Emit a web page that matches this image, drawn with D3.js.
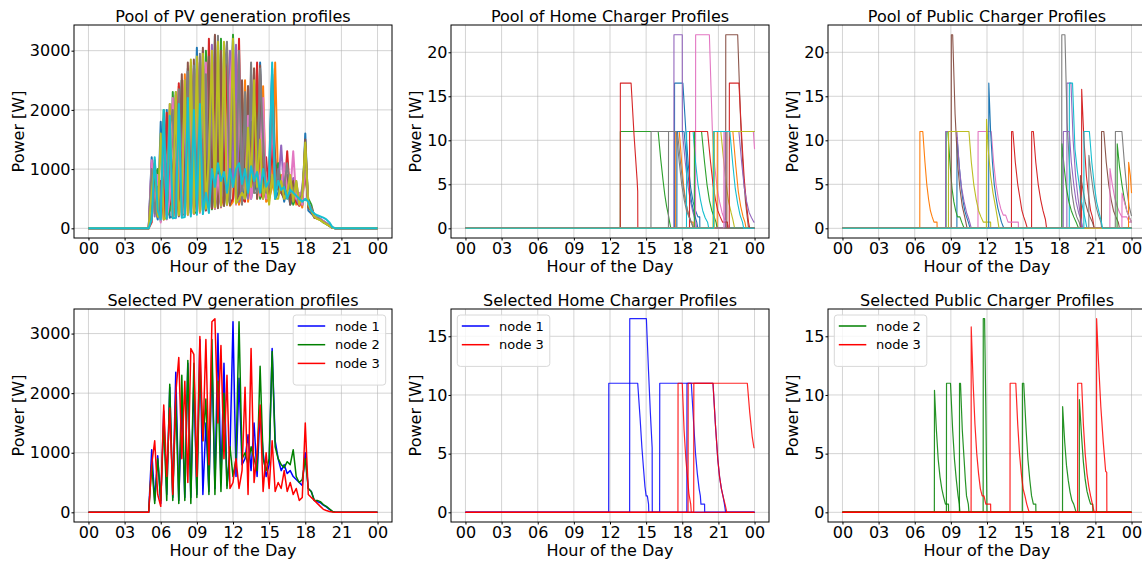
<!DOCTYPE html>
<html><head><meta charset="utf-8">
<script src="https://cdn.jsdelivr.net/npm/d3@7"></script>
<style>body{margin:0;background:#fff}svg{display:block;font-family:"DejaVu Sans",sans-serif}</style>
</head><body>
<svg id="c" width="1142" height="562"></svg>
<script>
// ---------- tick values / labels ----------
const hourTicks = [0,3,6,9,12,15,18,21,24];
const hourLabels = ["00","03","06","09","12","15","18","21","00"];
const pvTicks = [0,1000,2000,3000];
const poolChargerTicks = [0,5,10,15,20];
const selChargerTicks = [0,5,10,15];
const titles = ["Pool of PV generation profiles","Pool of Home Charger Profiles","Pool of Public Charger Profiles",
  "Selected PV generation profiles","Selected Home Charger Profiles","Selected Public Charger Profiles"];

// ---------- PV sample hours ----------
const pvHours = [0, 5,5.25,5.5,5.75, 6,6.25,6.5,6.75, 7,7.25,7.5,7.75, 8,8.25,8.5,8.75, 9,9.25,9.5,9.75,
  10,10.25,10.5,10.75, 11,11.25,11.5,11.75, 12,12.25,12.5,12.75, 13,13.25,13.5,13.75, 14,14.25,14.5,14.75,
  15,15.25,15.5,15.75, 16,16.25,16.5,16.75, 17,17.25,17.5,17.75, 18,18.25,18.5,18.75, 19,19.25,19.5,19.75, 20,20.25,20.5, 24];

// ---------- PV pool profiles (W) ----------
const pvPool01 = [0, 0,1200,400,150, 1800,300,2000,180, 200,2300,400,2500, 260,2700,300,800, 3050,300,1500,310, 2900,350,3250,600, 400,2100,420,800, 3250,500,900,450, 700,2400,500,800, 600,2800,700,500, 1000,2700,500,600, 800,450,700,400, 500,600,450,380, 1600,300,250,200, 180,150,120,90, 50,15,0, 0];
const pvPool02 = [0, 0,800,1100,200, 200,1500,250,1900, 170,400,2400,220, 2600,240,2800,250, 600,2900,290,2000, 320,1200,330,3100, 350,600,3000,380, 450,2900,400,600, 2500,450,800,2700, 500,900,2400,450, 500,700,2800,700, 900,650,500,800, 700,400,500,350, 1400,350,300,180, 160,140,110,80, 40,10,0, 0];
const pvPool03 = [0, 0,300,900,1000, 120,2000,200,300, 2300,190,600,2500, 230,1000,2750,250, 280,2500,300,3000, 1800,320,700,350, 3200,380,900,400, 3270,420,700,2200, 500,700,1800,600, 2300,500,800,600, 600,2200,800,1100, 700,800,600,750, 400,550,400,650, 900,500,400,200, 170,140,100,70, 40,10,0, 0];
const pvPool04 = [0, 0,100,1150,300, 800,150,1950,400, 2100,200,2450,600, 2500,1000,260,2700, 270,2800,700,300, 3200,340,2800,360, 2700,400,3100,420, 500,1000,3200,500, 450,2000,600,900, 2800,600,500,1200, 550,1400,600,700, 600,550,1300,500, 600,450,380,500, 1000,400,350,210, 170,150,120,80, 45,12,0, 0];
const pvPool05 = [0, 0,1100,200,800, 150,1700,700,2100, 180,2200,200,2400, 800,2650,240,2200, 2700,290,3000,320, 600,3100,330,2500, 360,2800,400,3000, 700,3100,450,1200, 2000,500,2600,700, 900,2600,600,700, 800,2000,900,700, 1400,600,800,700, 850,500,400,700, 1200,400,300,200, 180,160,120,90, 50,15,0, 0];
const pvPool06 = [0, 0,900,1000,500, 200,1800,160,2000, 500,2250,210,2600, 230,2800,400,2850, 280,900,3050,310, 2900,350,3270,340, 3000,380,900,400, 3000,420,600,2500, 500,2400,600,2700, 500,2750,800,500, 700,2600,1200,700, 600,500,900,400, 800,600,500,400, 1500,350,300,180, 170,150,110,80, 40,12,0, 0];
const pvPool07 = [0, 0,1150,300,900, 100,1600,150,500, 2200,170,1500,200, 2500,220,2600,240, 2400,260,800,2800, 300,3000,340,900, 380,2900,390,2400, 3100,400,2800,480, 600,1900,500,800, 1300,550,2200,500, 900,1800,700,800, 700,1100,650,600, 1300,500,600,400, 1100,450,320,220, 190,160,120,90, 50,15,0, 0];
const pvPool08 = [0, 0,1000,250,700, 180,1850,230,1700, 2000,190,2350,220, 240,2650,260,2750, 300,2950,310,2600, 350,2700,360,3250, 400,2500,3150,450, 2900,480,3000,400, 2300,600,2800,600, 600,2700,1500,600, 700,2300,600,1000, 650,700,1100,600, 600,800,450,600, 1300,400,350,190, 180,150,110,80, 45,12,0, 0];
const pvPool09 = [0, 0,600,1100,200, 1600,150,180,2100, 200,2300,220,600, 2500,230,2850,250, 2900,280,2950,330, 1200,3000,350,3150, 380,3150,400,1000, 3200,420,500,600, 500,1700,700,2500, 700,1500,500,800, 400,900,500,500, 800,500,600,900, 450,800,400,550, 1450,400,300,200, 160,140,100,70, 40,10,0, 0];
const pvPool10 = [0, 0,150,1200,300, 150,2000,160,1900, 170,180,2100,180, 190,2200,200,2000, 230,2100,240,600, 260,1000,700,1100, 800,950,600,1000, 700,1000,1100,750, 1000,600,1050,800, 950,600,1000,700, 800,2800,500,800, 650,700,500,650, 600,550,500,450, 500,450,300,250, 220,200,180,150, 100,20,0, 0];
const pvPool = [pvPool01,pvPool02,pvPool03,pvPool04,pvPool05,pvPool06,pvPool07,pvPool08,pvPool09,pvPool10];

// ---------- Selected PV profiles (W) ----------
const pvNode1 = [0, 0,1050,200,950, 150,1700,300,2100, 250,2350,200,1800, 250,2500,250,2200, 300,2900,300,1500, 350,2600,400,3000, 500,2500,450,1000, 3200,600,2250,800, 900,1300,700,1500, 600,1700,1000,600, 800,2750,1200,900, 700,800,650,700, 600,550,500,450, 1000,400,350,200, 180,160,120,90, 50,15,0, 0];
const pvNode2 = [0, 0,800,150,900, 200,1500,200,2150, 200,1900,150,2300, 200,2550,150,2500, 250,2500,1200,1900, 300,2900,300,2200, 350,2000,400,1100, 600,900,3200,900, 1000,800,1100,900, 700,2450,900,700, 900,2700,1100,900, 800,750,850,800, 1050,600,500,550, 900,400,350,200, 200,180,130,100, 60,15,0, 0];
const pvNode3 = [0, 0,800,1200,300, 100,1800,600,1750, 300,2000,2600,900, 2200,500,2750,2650, 600,2950,1200,2900, 800,3200,3250,1500, 2800,900,2300,400, 500,900,400,700, 2100,300,2750,500, 1000,1800,350,1000, 400,1200,350,500, 400,700,350,500, 300,400,200,250, 1500,300,250,200, 150,100,50,30, 15,5,0, 0];

// ---------- Home charger pool: [hour, kW] breakpoints ----------
const homePool = [
 [[0,0],[17.35,0],[17.36,16.5],[18.05,16.5],[18.3,11],[18.5,7.2],[18.7,4.6],[18.9,3],[19.1,2],[19.3,1.3],[19.45,1.3],[19.46,0],[24,0]],
 [[0,0],[17.45,0],[17.46,11],[17.75,11],[17.95,7.5],[18.1,5],[18.25,3.4],[18.4,2.2],[18.55,1.4],[18.7,0.7],[18.9,0.7],[18.91,0],[24,0]],
 [[0,0],[12.85,0],[12.86,11],[16.0,11],[16.2,8],[16.4,5.5],[16.55,3.8],[16.7,2.5],[16.85,1.5],[16.95,0.7],[17.05,0],[24,0]],
 [[0,0],[12.85,0],[12.86,16.5],[13.75,16.5],[14.0,10.5],[14.25,5.5],[14.3,4.2],[14.31,0],[24,0]],
 [[0,0],[17.3,0],[17.31,22],[18.0,22],[18.01,11],[18.25,7.5],[18.45,5],[18.65,3.3],[18.85,2],[19.05,1],[19.2,0],[24,0]],
 [[0,0],[21.6,0],[21.61,22],[22.6,22],[22.85,12],[23.05,6.5],[23.25,3],[23.4,1.2],[23.5,0],[24,0]],
 [[0,0],[19.1,0],[19.11,22],[20.25,22],[20.5,11],[20.7,7],[20.9,4.5],[21.1,3],[21.3,1.8],[21.5,1],[21.7,0.7],[21.9,0],[24,0]],
 [[0,0],[15.4,0],[15.41,11],[17.6,11],[17.85,7.5],[18.05,5],[18.25,3.2],[18.45,2],[18.6,1.3],[18.75,0.7],[18.9,0],[24,0]],
 [[0,0],[20.55,0],[20.56,11],[21.2,11],[21.45,7.5],[21.65,5],[21.85,3],[22.05,1.8],[22.2,1],[22.35,0],[24,0]],
 [[0,0],[18.35,0],[18.36,11],[18.9,11],[19.1,7.5],[19.3,5],[19.5,3.3],[19.7,2],[19.9,1.2],[20.1,0.7],[20.2,0],[24,0]],
 [[0,0],[17.55,0],[17.56,11],[18.15,11],[18.4,7.2],[18.6,4.5],[18.8,2.8],[19.0,1.6],[19.2,0.7],[19.3,0],[24,0]],
 [[0,0],[20.9,0],[20.91,11],[22.2,11],[22.45,7],[22.65,4.2],[22.85,2.5],[23.05,1.3],[23.2,0.7],[23.3,0],[24,0]],
 [[0,0],[19.0,0],[19.01,11],[19.6,11],[19.85,7.5],[20.05,5],[20.25,3.2],[20.45,2],[20.65,1.3],[20.8,0.7],[20.9,0],[24,0]],
 [[0,0],[18.6,0],[18.61,11],[20.1,11],[20.35,7.5],[20.55,5],[20.75,3.3],[20.95,2],[21.15,1.3],[21.35,0.7],[21.75,0.7],[21.76,0],[21.9,0],[21.91,16.5],[22.7,16.5],[22.95,10],[23.15,5.5],[23.35,2.5],[23.5,0.7],[23.6,0],[24,0]],
 [[0,0],[21.55,0],[21.56,11],[22.7,11],[22.95,7.2],[23.15,4.6],[23.35,3],[23.55,1.8],[23.75,1.2],[23.95,0.7],[24,0.7]],
 [[0,0],[21.7,0],[21.71,11],[24,11]],
 [[0,0],[21.45,0],[21.46,11],[23.9,11],[24,9]],
 [[0,0],[16.85,0],[16.86,11],[17.5,11],[17.75,7.5],[17.95,5],[18.15,3.3],[18.35,2],[18.55,1.3],[18.75,0.7],[18.95,0],[24,0]],
 [[0,0],[20.65,0],[20.66,11],[24,11]],
 [[0,0],[20.6,0],[20.61,11],[21.95,11],[22.2,7.2],[22.4,4.5],[22.6,2.8],[22.8,1.5],[23.0,0.7],[23.1,0],[24,0]]
];

// ---------- Public charger pool ----------
const publicPool = [
 [[0,0],[9.5,0],[9.51,10.3],[9.7,7],[9.85,4.8],[10.0,3.2],[10.15,2],[10.3,1.3],[10.45,0.7],[10.6,0],[24,0]],
 [[0,0],[6.42,0],[6.43,11],[6.67,11],[6.85,7.5],[7.0,5],[7.15,3.3],[7.3,2],[7.45,1.3],[7.6,0.7],[7.85,0.7],[7.86,0],[24,0]],
 [[0,0],[8.6,0],[8.61,11],[8.75,11],[8.95,7],[9.1,4.5],[9.25,3],[9.4,2],[9.55,1.3],[9.75,1.3],[9.9,0.7],[10.1,0],[24,0]],
 [[0,0],[14.03,0],[14.04,11],[14.15,11],[14.35,7.5],[14.55,5],[14.75,3.3],[14.9,2],[15.05,1.3],[15.2,0.7],[15.35,0],[19.85,0],[19.86,15.8],[20.05,10],[20.25,6],[20.45,3.5],[20.6,2],[20.75,1.3],[20.9,0],[24,0]],
 [[0,0],[8.56,0],[8.57,11],[9.5,11],[9.7,7],[9.9,4.5],[10.1,3],[10.3,1.8],[10.5,1],[10.7,0],[18.63,0],[18.64,16.5],[18.97,16.5],[19.15,10],[19.35,6],[19.55,3.5],[19.75,1.5],[19.9,0],[24,0]],
 [[0,0],[9.03,0],[9.04,22],[9.15,22],[9.35,13],[9.55,7.5],[9.75,4.5],[9.95,2.5],[10.15,1.3],[10.35,0],[21.5,0],[21.51,11],[21.7,11],[21.9,7.5],[22.1,5],[22.3,3.3],[22.5,2],[22.7,1.3],[22.9,0.7],[23.0,0],[24,0]],
 [[0,0],[11.25,0],[11.26,11],[12.35,11],[12.55,7.5],[12.75,5],[12.95,3.3],[13.15,2.2],[13.35,1.5],[13.55,1.5],[13.75,0.7],[14.6,0.7],[14.61,0],[22.2,0],[22.21,6.8],[22.4,5],[22.6,3.5],[22.8,2.5],[23.0,1.8],[23.2,1.3],[23.6,1.3],[23.8,0.7],[24,0.7]],
 [[0,0],[18.2,0],[18.21,22],[18.47,22],[18.65,12],[18.85,7],[19.05,4],[19.25,2.3],[19.45,1.3],[19.65,0.7],[19.8,0],[22.65,0],[22.66,11],[23.2,11],[23.4,7.5],[23.6,4.5],[23.8,2.5],[24,1.4]],
 [[0,0],[8.8,0],[8.81,11],[10.5,11],[10.7,7.5],[10.9,5],[11.1,3.3],[11.3,2],[11.5,1.3],[11.7,0.7],[12.3,0.7],[12.31,0],[24,0]],
 [[0,0],[18.83,0],[18.84,16.5],[19.1,16.5],[19.3,9],[19.5,6.5],[19.7,4.5],[19.85,3],[20.0,2],[20.2,0.7],[20.3,0],[24,0]],
 [[0,0],[12.14,0],[12.15,16.5],[12.3,11],[12.45,7.5],[12.6,5],[12.75,3.5],[12.9,2.3],[13.05,1.5],[13.2,0.7],[13.4,0],[24,0]],
 [[0,0],[23.75,0],[23.76,7.5],[23.9,6],[24,4]],
 [[0,0],[18.22,0],[18.23,9.6],[18.4,7],[18.6,4.5],[18.8,3],[19.0,2],[19.2,1.3],[19.4,0.7],[19.6,0],[22.8,0],[22.81,9.6],[23.0,7],[23.2,5],[23.4,3.3],[23.6,2],[23.8,1.3],[24,0.7]],
 [[0,0],[15.7,0],[15.71,11],[15.85,11],[16.05,7.5],[16.25,5],[16.45,3.3],[16.65,2],[16.85,1],[16.95,0],[24,0]],
 [[0,0],[18.33,0],[18.34,11],[18.83,11],[19.0,7.5],[19.2,5],[19.4,3],[19.6,1.8],[19.8,1],[19.95,0],[24,0]],
 [[0,0],[19.75,0],[19.76,6],[19.95,4.5],[20.15,3],[20.35,2],[20.55,1.3],[20.75,0.7],[20.9,0],[24,0]],
 [[0,0],[23.2,0],[23.21,4],[23.4,3],[23.6,2],[23.8,1.3],[24,0.7]],
 [[0,0],[20.45,0],[20.46,8.3],[20.65,6],[20.85,4],[21.05,2.5],[21.25,1.5],[21.45,0.7],[21.55,0],[24,0]],
 [[0,0],[11.95,0],[11.96,12.4],[12.1,9],[12.3,6],[12.5,4],[12.7,2.5],[12.85,1.3],[13.0,0],[24,0]],
 [[0,0],[20.04,0],[20.05,11],[20.5,11],[20.7,7.5],[20.9,5],[21.1,3],[21.3,1.8],[21.5,0.7],[21.6,0],[24,0]]
];

// ---------- Selected home charger profiles ----------
const homeNode1 = [
 [[0,0],[11.89,0],[11.9,11],[14.3,11],[14.5,8],[14.65,5.5],[14.8,3.5],[14.9,2.2],[15.0,1.4],[15.1,1.4],[15.2,0.7],[15.22,0],[24,0]],
 [[0,0],[13.63,0],[13.64,16.5],[15.02,16.5],[15.2,12],[15.35,8.5],[15.5,5.5],[15.51,0],[24,0]],
 [[0,0],[16.12,0],[16.13,11],[18.75,11],[18.95,7.5],[19.1,5],[19.25,3.3],[19.4,2],[19.5,1.4],[19.55,0.7],[19.85,0.7],[19.86,0],[24,0]],
 [[0,0],[18.38,0],[18.39,11],[20.55,11],[20.75,7.5],[20.95,4.5],[21.1,3],[21.25,2],[21.4,1.3],[21.5,0.7],[21.6,0],[24,0]]
];
const homeNode3 = [
 [[0,0],[17.64,0],[17.65,11],[18.0,11],[18.15,7],[18.3,4.5],[18.45,2.8],[18.55,1.6],[18.7,0.7],[18.75,0],[24,0]],
 [[0,0],[18.48,0],[18.49,11],[20.55,11],[20.75,7.5],[20.95,4.5],[21.1,3],[21.25,2],[21.4,1.3],[21.55,0.7],[21.7,0],[24,0]],
 [[0,0],[18.95,0],[18.96,11],[23.4,11],[23.6,8.5],[23.8,6.5],[23.95,5.5],[24,5.5]]
];

// ---------- Selected public charger profiles ----------
const publicNode2 = [
 [[0,0],[7.63,0],[7.64,10.4],[7.8,7],[7.95,4.5],[8.1,3],[8.25,2],[8.4,1.3],[8.55,0.7],[8.8,0.7],[8.81,0],[24,0]],
 [[0,0],[8.63,0],[8.64,11],[8.97,11],[9.15,7],[9.3,4.5],[9.45,2.8],[9.6,1.4],[9.7,0.7],[9.75,0],[24,0]],
 [[0,0],[9.71,0],[9.72,11],[9.8,11],[9.95,7],[10.1,4.5],[10.2,2.8],[10.3,1.4],[10.45,0.7],[10.5,0],[24,0]],
 [[0,0],[11.68,0],[11.69,16.5],[11.8,16.5],[11.9,9],[12.0,0],[24,0]],
 [[0,0],[14.93,0],[14.94,11],[15.05,11],[15.25,7],[15.4,4.5],[15.55,2.8],[15.7,1.4],[15.85,0.7],[16.05,0.7],[16.06,0],[24,0]],
 [[0,0],[18.27,0],[18.28,9],[18.45,6],[18.6,4],[18.75,2.7],[18.9,1.7],[19.05,1],[19.2,0.7],[19.4,0],[24,0]],
 [[0,0],[19.66,0],[19.67,9.6],[19.85,6.5],[20.0,4.3],[20.15,2.8],[20.3,1.8],[20.45,1.2],[20.6,0.7],[20.78,0.7],[20.79,0],[24,0]]
];
const publicNode3 = [
 [[0,0],[10.68,0],[10.69,15.8],[10.85,11],[11.0,7.5],[11.15,5],[11.3,3.3],[11.45,2],[11.6,1.4],[11.75,1.4],[11.9,0.7],[12.3,0.7],[12.31,0],[24,0]],
 [[0,0],[13.91,0],[13.92,11],[14.39,11],[14.55,7.5],[14.7,5],[14.85,3.3],[15.0,2],[15.15,1.4],[15.3,0.7],[15.5,0],[24,0]],
 [[0,0],[19.52,0],[19.53,11],[19.86,11],[20.0,7.5],[20.15,5],[20.3,3.3],[20.45,2.2],[20.6,1.4],[20.75,0.7],[20.9,0],[24,0]],
 [[0,0],[21.09,0],[21.1,16.5],[21.25,13],[21.45,9],[21.65,6],[21.85,3.5],[21.94,3.4],[21.95,0],[24,0]]
];

// ---------- layout ----------
const svg = d3.select("#c");
const colX = [74, 451, 828];
const rowY = [25, 309];
const axW = 318, axH = 213;
const FONT = 16;

function panel(ci, ri, yMax, yTicks, title, ylabOff) {
  const left = colX[ci], top = rowY[ri];
  const x = d3.scaleLinear().domain([-1.2, 25.2]).range([left, left + axW]);
  const y = d3.scaleLinear().domain([-0.05 * yMax, 1.05 * yMax]).range([top + axH, top]);
  const g = svg.append("g");
  g.selectAll(".gx").data(hourTicks).join("line")
    .attr("x1", d => x(d)).attr("x2", d => x(d)).attr("y1", top).attr("y2", top + axH)
    .attr("stroke", "#b0b0b0").attr("stroke-opacity", 0.55).attr("stroke-width", 1);
  g.selectAll(".gy").data(yTicks).join("line")
    .attr("x1", left).attr("x2", left + axW).attr("y1", d => y(d)).attr("y2", d => y(d))
    .attr("stroke", "#b0b0b0").attr("stroke-opacity", 0.55).attr("stroke-width", 1);
  const xa = g.append("g").attr("transform", `translate(0,${top + axH})`)
    .call(d3.axisBottom(x).tickValues(hourTicks).tickFormat((d, i) => hourLabels[i]).tickSize(2.5).tickPadding(2).tickSizeOuter(0));
  const ya = g.append("g").attr("transform", `translate(${left},0)`)
    .call(d3.axisLeft(y).tickValues(yTicks).tickFormat(d3.format("d")).tickSize(2.5).tickPadding(1).tickSizeOuter(0));
  [xa, ya].forEach(a => {
    a.select(".domain").remove();
    a.selectAll("text").attr("font-size", FONT).attr("font-family", "DejaVu Sans").attr("fill", "#000");
    a.selectAll("line").attr("stroke", "#000");
  });
  g.append("text").attr("x", left + axW / 2).attr("y", top - 3.5).attr("text-anchor", "middle")
    .attr("font-size", FONT).text(title);
  g.append("text").attr("x", left + axW / 2).attr("y", top + axH + 34).attr("text-anchor", "middle")
    .attr("font-size", FONT).text("Hour of the Day");
  g.append("text").attr("transform", `translate(${left - ylabOff},${top + axH / 2}) rotate(-90)`)
    .attr("text-anchor", "middle").attr("dominant-baseline", "central").attr("font-size", FONT).text("Power [W]");
  const clipId = `clip${ci}${ri}`;
  svg.append("clipPath").attr("id", clipId).append("rect").attr("x", left).attr("y", top).attr("width", axW).attr("height", axH);
  const plot = svg.append("g").attr("clip-path", `url(#${clipId})`);
  const frame = () => svg.append("rect").attr("x", left).attr("y", top).attr("width", axW).attr("height", axH)
    .attr("fill", "none").attr("stroke", "#000").attr("stroke-width", 1);
  return {x, y, plot, frame, left, top};
}

const tab10 = d3.schemeCategory10;

function drawLine(p, pts, color, w, op) {
  const line = d3.line().x(d => p.x(d[0])).y(d => p.y(d[1]));
  p.plot.append("path").attr("d", line(pts)).attr("fill", "none").attr("stroke", color)
    .attr("stroke-width", w).attr("stroke-opacity", op == null ? 1 : op).attr("stroke-linejoin", "round");
}
const zipPV = vals => pvHours.map((h, i) => [h, vals[i]]);

function legend(p, corner, items) {
  const rowH = 18.7, bw = 92.5, bh = 10 + rowH * items.length + 4;
  const bx = corner === "right" ? p.left + axW - 6.3 - bw : p.left + 6.3;
  const by = p.top + 6;
  const lg = svg.append("g");
  lg.append("rect").attr("x", bx).attr("y", by).attr("width", bw).attr("height", bh).attr("rx", 3)
    .attr("fill", "#fff").attr("fill-opacity", 0.8).attr("stroke", "#d8d8d8");
  items.forEach((it, i) => {
    const cy = by + 11 + rowH * i;
    lg.append("line").attr("x1", bx + 4.5).attr("x2", bx + 32).attr("y1", cy).attr("y2", cy)
      .attr("stroke", it.color).attr("stroke-width", 1.5);
    lg.append("text").attr("x", bx + 41.7).attr("y", cy).attr("dy", "0.36em").attr("font-size", 13).text(it.label);
  });
}

{
  const p = panel(0, 0, d3.max(pvPool.flat()), pvTicks, titles[0], 55.7);
  pvPool.forEach((s, i) => drawLine(p, zipPV(s), tab10[i % 10], 2));
  p.frame();
}
{
  const p = panel(1, 0, d3.max(homePool.flat(), d => d[1]), poolChargerTicks, titles[1], 36);
  homePool.forEach((s, i) => drawLine(p, s, tab10[i % 10], 1.1));
  p.frame();
}
{
  const p = panel(2, 0, d3.max(publicPool.flat(), d => d[1]), poolChargerTicks, titles[2], 36);
  publicPool.forEach((s, i) => drawLine(p, s, tab10[i % 10], 1.1));
  p.frame();
}
{
  const all = pvNode1.concat(pvNode2, pvNode3);
  const p = panel(0, 1, d3.max(all), pvTicks, titles[3], 55.7);
  drawLine(p, zipPV(pvNode1), "blue", 1.5);
  drawLine(p, zipPV(pvNode2), "green", 1.5);
  drawLine(p, zipPV(pvNode3), "red", 1.5);
  p.frame();
  legend(p, "right", [{label: "node 1", color: "blue"}, {label: "node 2", color: "green"}, {label: "node 3", color: "red"}]);
}
{
  const all = homeNode1.concat(homeNode3).flat();
  const p = panel(1, 1, d3.max(all, d => d[1]), selChargerTicks, titles[4], 36);
  homeNode1.forEach(s => drawLine(p, s, "blue", 1.2, 0.85));
  homeNode3.forEach(s => drawLine(p, s, "red", 1.2, 0.85));
  p.frame();
  legend(p, "left", [{label: "node 1", color: "blue"}, {label: "node 3", color: "red"}]);
}
{
  const all = publicNode2.concat(publicNode3).flat();
  const p = panel(2, 1, d3.max(all, d => d[1]), selChargerTicks, titles[5], 36);
  publicNode2.forEach(s => drawLine(p, s, "green", 1.2, 0.85));
  publicNode3.forEach(s => drawLine(p, s, "red", 1.2, 0.85));
  p.frame();
  legend(p, "left", [{label: "node 2", color: "green"}, {label: "node 3", color: "red"}]);
}
</script>
</body></html>
